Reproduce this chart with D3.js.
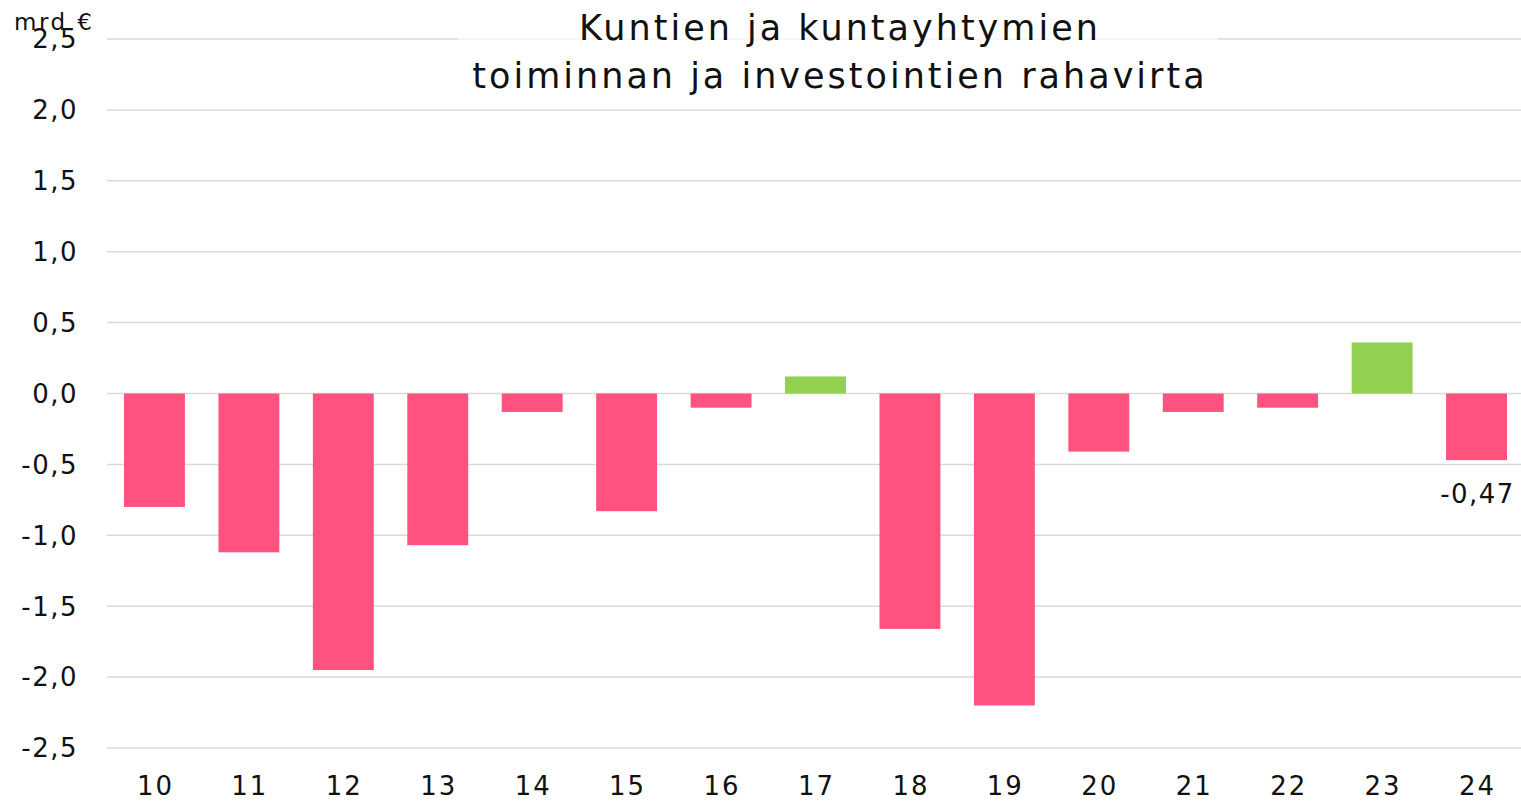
<!DOCTYPE html>
<html>
<head>
<meta charset="utf-8">
<script src="https://cdn.jsdelivr.net/npm/d3@7"></script>
<style>
  body { margin: 0; background: #fff; }
  text { font-family: "DejaVu Sans", Inter, sans-serif; fill: #111; }
</style>
</head>
<body>
<div id="chart"></div>
<script>
// vuodet (20xx) ja rahavirta mrd €
const years = ['10', '11', '12', '13', '14', '15', '16', '17', '18', '19', '20', '21', '22', '23', '24'];
const values = [-0.80, -1.12, -1.95, -1.07, -0.13, -0.83, -0.10, 0.12, -1.66, -2.20, -0.41, -0.13, -0.10, 0.36, -0.47];
const yTicks = [2.5, 2.0, 1.5, 1.0, 0.5, 0.0, -0.5, -1.0, -1.5, -2.0, -2.5];
const titleLines = ['Kuntien ja kuntayhtymien', 'toiminnan ja investointien rahavirta'];

const width = 1521, height = 802;
const margin = { top: 39, right: -3, bottom: 54, left: 107 };

const svg = d3.select('#chart').append('svg')
    .attr('width', width)
    .attr('height', height);

const x = d3.scaleBand()
    .domain(years)
    .range([margin.left, width - margin.right])
    .paddingInner(0.355)
    .paddingOuter(0.18);

const y = d3.scaleLinear()
    .domain([-2.5, 2.5])
    .range([height - margin.bottom, margin.top]);

const fmt1 = v => d3.format('.1f')(v).replace('.', ',').replace('−', '-');
const fmt2 = v => d3.format('.2f')(v).replace('.', ',').replace('−', '-');

// Gridlines
svg.append('g')
    .selectAll('line')
    .data(yTicks)
    .enter().append('line')
    .attr('x1', margin.left)
    .attr('x2', width)
    .attr('y1', d => y(d))
    .attr('y2', d => y(d))
    .style('stroke', '#d9d9d9')
    .style('stroke-width', 1.5);

// Y tick labels
svg.append('g')
    .selectAll('text')
    .data(yTicks)
    .enter().append('text')
    .attr('x', 78)
    .attr('y', d => y(d))
    .attr('dy', '0.36em')
    .style('text-anchor', 'end')
    .style('font-size', '26px')
    .style('letter-spacing', '1.5px')
    .text(d => fmt1(d));

// Bars
svg.append('g')
    .selectAll('rect')
    .data(values)
    .enter().append('rect')
    .attr('x', (d, i) => x(years[i]))
    .attr('width', x.bandwidth())
    .attr('y', d => y(Math.max(0, d)))
    .attr('height', d => Math.abs(y(d) - y(0)))
    .style('fill', d => d >= 0 ? '#92d050' : '#ff527f');

// X labels
svg.append('g')
    .selectAll('text')
    .data(years)
    .enter().append('text')
    .attr('x', d => x(d) + x.bandwidth() / 2 + 1)
    .attr('y', 786)
    .attr('dy', '0.36em')
    .style('text-anchor', 'middle')
    .style('font-size', '26px')
    .style('letter-spacing', '2px')
    .text(d => d);

// Label for last value
const last = values.length - 1;
svg.append('text')
    .attr('x', x(years[last]) + x.bandwidth() / 2 + 1)
    .attr('y', y(values[last]) + 33)
    .attr('dy', '0.36em')
    .style('text-anchor', 'middle')
    .style('font-size', '26px')
    .style('letter-spacing', '1.5px')
    .text(fmt2(values[last]));

// Title with semi-transparent background
svg.append('rect')
    .attr('x', 458)
    .attr('y', 2)
    .attr('width', 760)
    .attr('height', 96)
    .style('fill', '#fff')
    .style('opacity', 0.7);

svg.append('g')
    .selectAll('text')
    .data(titleLines)
    .enter().append('text')
    .attr('x', 840)
    .attr('y', (d, i) => 27 + i * 48)
    .attr('dy', '0.36em')
    .style('text-anchor', 'middle')
    .style('font-size', '35px')
    .style('letter-spacing', '3px')
    .text(d => d);

// Unit
svg.append('text')
    .attr('x', 14)
    .attr('y', 22)
    .attr('dy', '0.36em')
    .style('font-size', '23px')
    .style('letter-spacing', '2.5px')
    .text('mrd €');
</script>
</body>
</html>
